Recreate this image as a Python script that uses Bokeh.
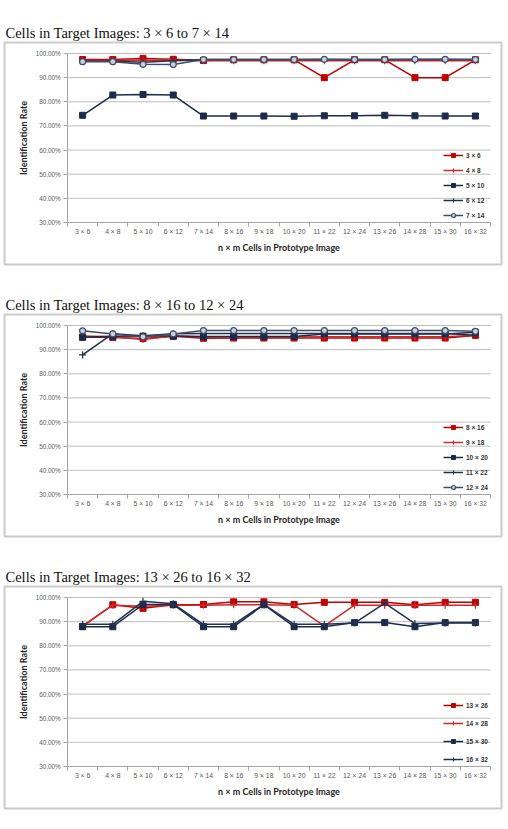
from bokeh.plotting import figure
from bokeh.layouts import column
from bokeh.models import (FixedTicker, NumeralTickFormatter, Legend, LegendItem, Range1d,
                          LinearAxis)
from bokeh.embed import file_html
from bokeh.resources import INLINE

categories = ["3 × 6", "4 × 8", "5 × 10", "6 × 12", "7 × 14", "8 × 16", "9 × 18",
              "10 × 20", "11 × 22", "12 × 24", "13 × 26", "14 × 28", "15 × 30", "16 × 32"]
y_ticks = [30, 40, 50, 60, 70, 80, 90, 100]

titles = ["Cells in Target Images: 3 × 6 to 7 × 14",
          "Cells in Target Images: 8 × 16 to 12 × 24",
          "Cells in Target Images: 13 × 26 to 16 × 32"]

# panel 1 (identification rate, %)
p1_names = ["3 × 6", "4 × 8", "5 × 10", "6 × 12", "7 × 14"]
p1_s1 = [97.5, 97.5, 97.9, 97.6, 97.1, 97.4, 97.4, 97.4, 90.0, 97.4, 97.4, 90.0, 90.0, 97.4]
p1_s2 = [97.1, 97.1, 97.2, 97.2, 97.0, 97.0, 97.0, 97.0, 97.0, 97.0, 97.0, 97.0, 97.0, 97.0]
p1_s3 = [74.4, 82.8, 83.0, 82.8, 74.1, 74.1, 74.1, 74.0, 74.2, 74.2, 74.4, 74.2, 74.1, 74.1]
p1_s4 = [96.8, 96.8, 96.4, 97.0, 97.5, 97.5, 97.5, 97.5, 97.5, 97.5, 97.5, 97.5, 97.5, 97.5]
p1_s5 = [96.6, 96.6, 95.5, 95.4, 97.5, 97.5, 97.5, 97.5, 97.6, 97.5, 97.5, 97.6, 97.6, 97.5]

# panel 2
p2_names = ["8 × 16", "9 × 18", "10 × 20", "11 × 22", "12 × 24"]
p2_s1 = [95.2, 95.0, 94.6, 95.5, 94.7, 94.8, 94.8, 94.8, 94.8, 94.8, 94.8, 94.8, 94.8, 95.9]
p2_s2 = [95.6, 95.3, 94.2, 95.6, 95.2, 95.2, 95.2, 95.2, 95.3, 95.3, 95.3, 95.3, 95.3, 96.0]
p2_s3 = [95.1, 95.5, 95.6, 95.6, 95.4, 95.4, 95.4, 95.4, 96.5, 96.5, 96.5, 96.5, 96.5, 97.2]
p2_s4 = [87.8, 96.6, 95.8, 96.6, 96.7, 96.7, 96.7, 96.7, 96.7, 96.7, 96.7, 96.7, 96.7, 96.0]
p2_s5 = [97.8, 96.5, 95.3, 96.5, 97.9, 97.9, 97.9, 97.9, 97.9, 97.9, 97.9, 97.9, 97.9, 97.6]

# panel 3
p3_names = ["13 × 26", "14 × 28", "15 × 30", "16 × 32"]
p3_s1 = [88.0, 97.0, 95.5, 97.0, 97.1, 98.2, 98.2, 97.1, 98.0, 98.0, 98.0, 97.0, 98.0, 98.0]
p3_s2 = [88.2, 96.8, 96.4, 96.8, 96.8, 97.0, 97.0, 96.8, 88.1, 96.8, 96.8, 96.8, 96.8, 96.8]
p3_s3 = [87.9, 87.9, 97.1, 97.1, 87.9, 87.9, 97.0, 87.9, 87.9, 89.6, 89.6, 87.9, 89.6, 89.6]
p3_s4 = [88.9, 88.9, 98.4, 97.4, 88.9, 88.9, 97.2, 88.9, 88.9, 89.4, 97.7, 89.2, 89.4, 89.4]

RED = "#c00000"
RED2 = "#cc2a2a"
NAVY = "#1c2b4a"
NAVY2 = "#22324f"
SLATE = "#3b4d6a"

styles5 = [
    dict(color=RED, marker="square"),
    dict(color=RED2, marker="cross"),
    dict(color=NAVY, marker="square"),
    dict(color=NAVY2, marker="cross"),
    dict(color=SLATE, marker="circle"),
]
styles4 = styles5[:4]

GRID = "#bdbdbd"
AXIS = "#a6a6a6"
TICK_FONT = "Liberation Sans"

# pixel layout of one panel (canvas 508 x 272)
W, H = 508, 272
BOX_L, BOX_R, BOX_T, BOX_B = 4, 501, 42, 264     # bordered box = plot frame
PA_L, PA_R, PA_T, PA_B = 67, 490, 53, 222        # inner plotting area


def make_panel(title, names, series, styles, spacing):
    xs = [i + 1 for i, _ in enumerate(categories)]
    x0, x1 = 0.5, len(categories) + 0.5
    y0, y1 = y_ticks[0] / 100, y_ticks[-1] / 100
    kx = (x1 - x0) / (PA_R - PA_L)
    ky = (y1 - y0) / (PA_B - PA_T)
    xr = Range1d(x0 - (PA_L - BOX_L) * kx, x1 + (BOX_R - PA_R) * kx)
    yr = Range1d(y0 - (BOX_B - PA_B) * ky, y1 + (PA_T - BOX_T) * ky)

    p = figure(width=W, height=H, output_backend="svg", toolbar_location=None,
               x_range=xr, y_range=yr, x_axis_location=None, y_axis_location=None,
               min_border_left=BOX_L, min_border_right=W - BOX_R,
               min_border_top=BOX_T, min_border_bottom=H - BOX_B)
    p.outline_line_color = "#cccccc"
    p.outline_line_width = 2
    p.background_fill_color = "white"
    p.border_fill_color = "white"
    for g0 in p.grid:
        g0.visible = False

    # title
    p.title.text = title
    p.title.text_font = "Liberation Serif"
    p.title.text_font_size = "14.5px"
    p.title.text_font_style = "normal"
    p.title.text_color = "#111111"
    p.title.align = "left"
    p.title.offset = 1
    p.title.standoff = 4

    # horizontal gridlines across the plotting area only
    gy = [t / 100 for t in y_ticks[1:]]
    p.segment(x0=[x0] * len(gy), x1=[x1] * len(gy), y0=gy, y1=gy,
              line_color=GRID, line_width=1, level="underlay")

    # x axis at the bottom of the plotting area
    xa = LinearAxis(fixed_location=y0, bounds=(x0, x1))
    xa.ticker = FixedTicker(ticks=xs, minor_ticks=[x - 0.5 for x in xs] + [xs[-1] + 0.5])
    xa.major_label_overrides = {x: c for x, c in zip(xs, categories)}
    xa.major_tick_out = 0
    xa.major_tick_in = 0
    xa.minor_tick_out = 4
    xa.minor_tick_in = 0
    xa.minor_tick_line_color = AXIS
    xa.axis_line_color = AXIS
    xa.major_label_text_font = TICK_FONT
    xa.major_label_text_font_size = "6.8px"
    xa.major_label_text_color = "#595959"
    xa.major_label_standoff = 1
    xa.axis_label = "n × m Cells in Prototype Image"
    xa.axis_label_text_font = "Lato"
    xa.axis_label_text_font_size = "9px"
    xa.axis_label_text_font_style = "bold"
    xa.axis_label_text_color = "#262626"
    xa.axis_label_standoff = 4
    p.add_layout(xa, "below")

    # y axis at the left of the plotting area
    ya = LinearAxis(fixed_location=x0, bounds=(y0, y1))
    ya.ticker = FixedTicker(ticks=[t / 100 for t in y_ticks], minor_ticks=[])
    ya.formatter = NumeralTickFormatter(format="0.00%")
    ya.major_tick_out = 4
    ya.major_tick_in = 0
    ya.minor_tick_out = 0
    ya.minor_tick_in = 0
    ya.major_tick_line_color = AXIS
    ya.axis_line_color = AXIS
    ya.major_label_text_font = TICK_FONT
    ya.major_label_text_font_size = "6.3px"
    ya.major_label_text_color = "#595959"
    ya.major_label_standoff = 3
    ya.axis_label = "Identification Rate"
    ya.axis_label_text_font = "Lato"
    ya.axis_label_text_font_size = "9px"
    ya.axis_label_text_font_style = "bold"
    ya.axis_label_text_color = "#262626"
    ya.axis_label_standoff = 4
    p.add_layout(ya, "left")

    items = []
    for name, vals, st in zip(names, series, styles):
        ys = [v / 100 for v in vals]
        lr = p.line(xs, ys, line_color=st["color"], line_width=1.5)
        if st["marker"] == "square":
            mr = p.scatter(xs, ys, marker="square", size=6, fill_color=st["color"],
                           line_color=st["color"])
        elif st["marker"] == "cross":
            mr = p.scatter(xs, ys, marker="cross", size=7, line_color=st["color"],
                           line_width=1.2)
        else:
            mr = p.scatter(xs, ys, marker="circle", size=6, fill_color="#c9d0dc",
                           line_color=st["color"], line_width=1.2)
        items.append(LegendItem(label=name, renderers=[lr, mr]))

    leg = Legend(items=items, location=(443 - BOX_L - 2, BOX_B - PA_B),
                 orientation="vertical",
                 background_fill_alpha=0, border_line_alpha=0,
                 padding=2, margin=0, spacing=spacing,
                 glyph_width=20, glyph_height=10, label_height=10,
                 label_standoff=3, label_text_font=TICK_FONT,
                 label_text_font_size="6.5px", label_text_font_style="bold",
                 label_text_color="#333333")
    p.add_layout(leg, "center")
    return p


p1 = make_panel(titles[0], p1_names, [p1_s1, p1_s2, p1_s3, p1_s4, p1_s5], styles5, 5)
p2 = make_panel(titles[1], p2_names, [p2_s1, p2_s2, p2_s3, p2_s4, p2_s5], styles5, 5)
p3 = make_panel(titles[2], p3_names, [p3_s1, p3_s2, p3_s3, p3_s4], styles4, 8)

layout = column(p1, p2, p3, spacing=0)
open("out.html", "w").write(file_html(layout, INLINE))
